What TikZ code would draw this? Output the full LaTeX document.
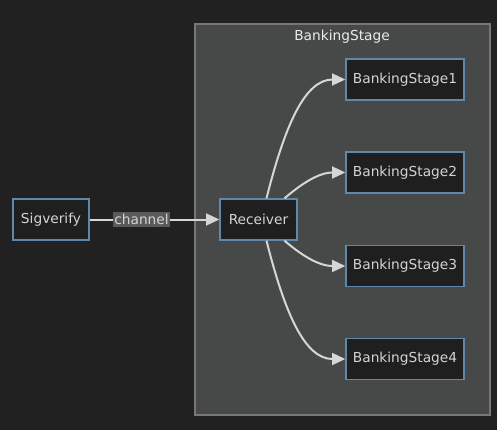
\documentclass[tikz,border=0pt]{standalone}
\usepackage{fontspec}
\setmainfont{DejaVu Sans}
\usetikzlibrary{arrows.meta}
\definecolor{bg}{HTML}{212121}
\definecolor{clusterfill}{HTML}{474948}
\definecolor{clusterline}{HTML}{777777}
\definecolor{nodefill}{HTML}{1F1F1F}
\definecolor{nodeline}{HTML}{6088AA}
\definecolor{txt}{HTML}{D4D4D4}
\definecolor{edgecol}{HTML}{D6D6D6}
\definecolor{labelfill}{HTML}{5A5A5A}
\tikzset{
  lbl/.style={font=\fontsize{10.3}{12}\selectfont},
  box/.style={draw=nodeline, fill=nodefill, line width=1pt, text=txt, lbl, inner sep=0pt, minimum height=30.75pt},
  link/.style={draw=edgecol, line width=1.5pt, -{Triangle[length=10pt,width=9pt]}},
}
\begin{document}
\begin{tikzpicture}[x=0.75pt,y=-0.75pt]
\useasboundingbox[fill=bg] (0,0) rectangle (497,430);
\node[draw=clusterline, fill=clusterfill, line width=0.8pt, minimum width=221.25pt, minimum height=293.25pt, inner sep=0pt] (cluster) at (342.5,219.5) {};
\node[text=white!92!black, lbl] (clabel) at (342,37) {BankingStage};
\node[box, minimum width=57pt] (sig) at (51,219.5) {Sigverify};
\node[box, minimum width=57.75pt] (rec) at (258.5,219.5) {Receiver};
\node[box, minimum width=88.5pt] (b1) at (405,79.5) {BankingStage1};
\node[box, minimum width=88.5pt] (b2) at (405,172.5) {BankingStage2};
\node[box, minimum width=88.5pt] (b3) at (405,266) {BankingStage3};
\node[box, minimum width=88.5pt] (b4) at (405,359) {BankingStage4};
\draw[link] (sig.east) -- node[pos=0.4, fill=labelfill, text=txt, inner xsep=1pt, inner ysep=2pt, lbl] (chl) {channel} (rec.west);
\draw[link] (rec.north) ++(8,0) coordinate (r1) (r1) .. controls (285,125) and (305,79.5) .. (b1.west);
\draw[link] (rec.north) ++(26,0) coordinate (r2) (r2) .. controls (300,185) and (318,172.5) .. (b2.west);
\draw[link] (rec.south) ++(26,0) coordinate (r3) (r3) .. controls (300,254) and (318,266) .. (b3.west);
\draw[link] (rec.south) ++(8,0) coordinate (r4) (r4) .. controls (285,314) and (305,359) .. (b4.west);
\end{tikzpicture}
\end{document}
